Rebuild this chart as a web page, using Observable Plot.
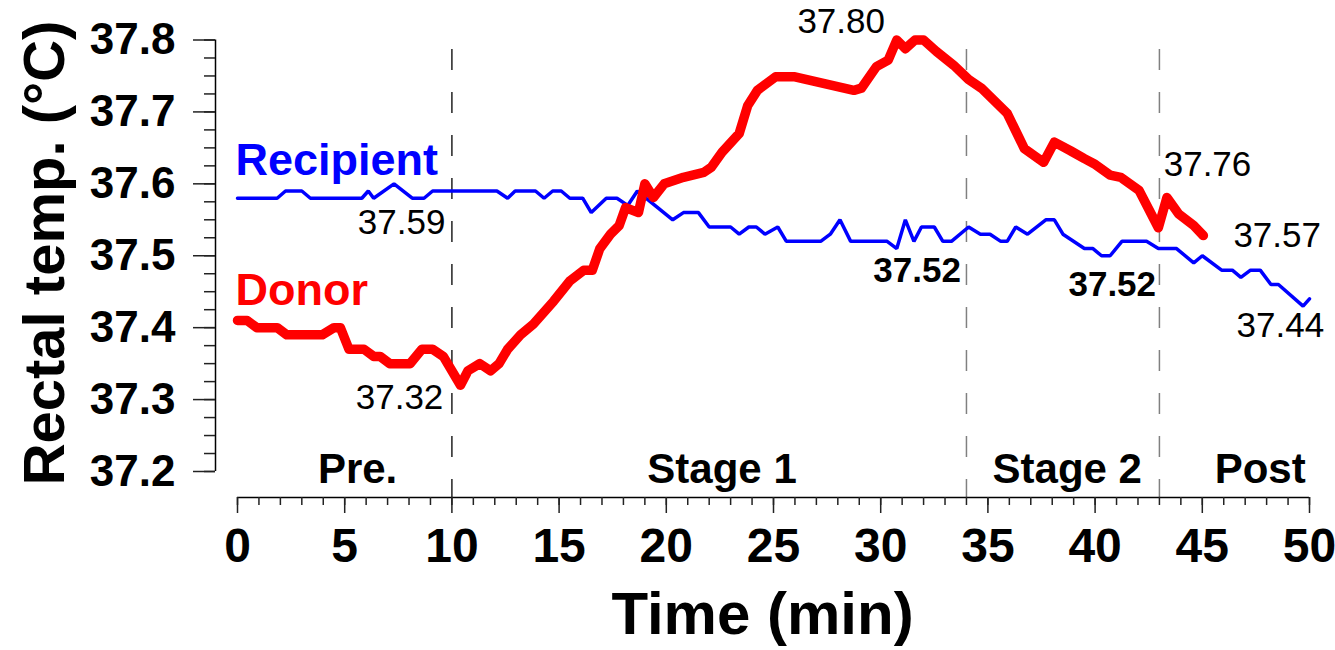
<!DOCTYPE html>
<html>
<head>
<meta charset="utf-8">
<script src="https://cdn.jsdelivr.net/npm/d3@7"></script>
<script src="https://cdn.jsdelivr.net/npm/@observablehq/plot@0.6"></script>
<style>
  html, body { margin: 0; padding: 0; background: #fff; }
  #chart svg { font-family: "Liberation Sans", Arial, sans-serif; }
</style>
</head>
<body>
<div id="chart"></div>
<script>
// ---- Data ----
const donorTime = [0, 0.45, 0.9, 1.85, 2.3, 3.95, 4.5, 4.8, 5.2, 5.9, 6.35, 6.65, 7.1, 8.05, 8.6, 9.1, 9.6, 10.4, 10.75, 11.3, 11.8, 12.2, 12.6, 13.2, 13.8, 14.75, 15.5, 16.15, 16.55, 16.9, 17.4, 17.8, 18.1, 18.7, 19.0, 19.4, 19.9, 20.8, 21.75, 22.1, 22.6, 23.4, 23.8, 24.25, 25.1, 25.95, 28.75, 29.1, 29.8, 30.35, 30.75, 31.15, 31.6, 32.0, 32.6, 33.4, 34.1, 34.7, 35.9, 36.7, 37.6, 38.1, 38.85, 39.5, 39.95, 40.7, 41.2, 42.05, 42.95, 43.35, 43.9, 44.6, 45.05];
const donorTemp = [37.41, 37.41, 37.40, 37.40, 37.39, 37.39, 37.40, 37.40, 37.37, 37.37, 37.36, 37.36, 37.35, 37.35, 37.37, 37.37, 37.36, 37.32, 37.34, 37.35, 37.34, 37.35, 37.37, 37.39, 37.405, 37.437, 37.465, 37.48, 37.48, 37.51, 37.53, 37.542, 37.567, 37.56, 37.60, 37.581, 37.60, 37.609, 37.616, 37.623, 37.644, 37.67, 37.709, 37.73, 37.749, 37.749, 37.73, 37.733, 37.763, 37.772, 37.80, 37.788, 37.80, 37.80, 37.784, 37.765, 37.745, 37.733, 37.698, 37.649, 37.63, 37.658, 37.646, 37.635, 37.628, 37.612, 37.609, 37.591, 37.539, 37.581, 37.558, 37.542, 37.528];

const recipTime = [0, 1.85, 2.24, 3.0, 3.4, 5.8, 6.1, 6.35, 7.3, 8.15, 8.7, 9.1, 12.1, 12.6, 12.95, 13.9, 14.3, 14.7, 15.1, 15.5, 16.1, 16.5, 17.2, 17.7, 18.2, 18.65, 20.3, 20.8, 21.5, 22.0, 23.0, 23.4, 23.85, 24.2, 24.6, 25.2, 25.6, 27.2, 27.65, 28.1, 28.6, 30.3, 30.75, 31.15, 31.55, 31.9, 32.5, 32.9, 33.3, 34.1, 34.65, 35.1, 35.6, 35.9, 36.3, 36.85, 37.7, 38.1, 38.5, 39.5, 39.9, 40.3, 40.7, 41.25, 42.4, 42.95, 43.8, 44.6, 45.0, 45.9, 46.4, 46.8, 47.25, 47.7, 48.2, 48.55, 49.7, 50.0];
const recipTemp = [37.58, 37.58, 37.59, 37.59, 37.58, 37.58, 37.59, 37.58, 37.60, 37.58, 37.58, 37.59, 37.59, 37.58, 37.59, 37.59, 37.58, 37.59, 37.59, 37.58, 37.58, 37.56, 37.58, 37.58, 37.57, 37.59, 37.55, 37.56, 37.56, 37.54, 37.54, 37.53, 37.54, 37.54, 37.53, 37.54, 37.52, 37.52, 37.53, 37.55, 37.52, 37.52, 37.51, 37.55, 37.52, 37.54, 37.54, 37.52, 37.52, 37.54, 37.53, 37.53, 37.52, 37.52, 37.54, 37.53, 37.55, 37.55, 37.53, 37.51, 37.51, 37.50, 37.50, 37.52, 37.52, 37.51, 37.51, 37.49, 37.50, 37.48, 37.48, 37.47, 37.48, 37.48, 37.46, 37.46, 37.43, 37.44];

// stage boundaries (min)
const stageBounds = [10, 34, 43];
const stageColors = ["#222", "#808080", "#808080"];
// stage labels
const stageNames = ["Pre.", "Stage 1", "Stage 2", "Post"];
const stageLabelX = [5.6, 22.6, 38.7, 47.7];

// series labels
const seriesNames = ["Recipient", "Donor"];
const seriesLabelY = [37.633, 37.451];
const seriesColors = ["#0000ff", "#ff0000"];

// value annotations
const annText = ["37.59", "37.32", "37.80", "37.76", "37.57", "37.44", "37.52", "37.52"];
const annX = [9.7, 9.6, 30.2, 43.2, 46.45, 46.6, 31.7, 40.8];
const annY = [37.546, 37.303, 37.825, 37.626, 37.528, 37.403, 37.479, 37.459];
const annAnchor = ["end", "end", "end", "start", "start", "start", "middle", "middle"];
const annBold = [false, false, false, false, false, false, true, true];

// axis ticks
const xMajor = [0, 5, 10, 15, 20, 25, 30, 35, 40, 45, 50];
const xMinor = d3.range(0, 51, 1);
const yMajor = [37.2, 37.3, 37.4, 37.5, 37.6, 37.7, 37.8];
const yMinor = d3.range(0, 25).map(i => 37.2 + i * 0.025);

// ---- tables ----
const donor = donorTime.map((t, i) => ({t, v: donorTemp[i]}));
const recip = recipTime.map((t, i) => ({t, v: recipTemp[i]}));
const stages = stageBounds.map((t, i) => ({t, c: stageColors[i]}));
const stageLbl = stageNames.map((n, i) => ({n, t: stageLabelX[i]}));
const seriesLbl = seriesNames.map((n, i) => ({n, v: seriesLabelY[i], c: seriesColors[i]}));
const ann = annText.map((s, i) => ({s, t: annX[i], v: annY[i], a: annAnchor[i], b: annBold[i]}));

const annMarks = ["start", "middle", "end"].flatMap(a => [false, true].map(b => {
  const rows = ann.filter(d => d.a === a && d.b === b);
  return Plot.text(rows, {x: "t", y: "v", text: "s", textAnchor: a, fontSize: 35,
    fontWeight: b ? "bold" : "normal", fill: "black"});
}));

const W = 1335, H = 650;
const chart = Plot.plot({
  width: W,
  height: H,
  marginLeft: 215,
  marginRight: 26,
  marginTop: 40,
  marginBottom: 153,
  style: {fontFamily: "'Liberation Sans', Arial, sans-serif", color: "black", background: "white"},
  x: {domain: [0, 50], range: [237, 1309], axis: null},
  y: {domain: [37.2, 37.8], range: [471, 39.5], axis: null},
  marks: [
    // stage dashed lines
    Plot.ruleX(stages, {x: "t", stroke: "c", strokeWidth: 1.5, strokeDasharray: "21,22", insetTop: 9}),
    // y axis
    Plot.ruleX([0], {y1: 37.2, y2: 37.8, dx: -22, stroke: "black", strokeWidth: 1.5}),
    Plot.axisY({ticks: yMinor, tickSize: 11, tickFormat: () => "", stroke: "#222", strokeWidth: 1.5, label: null}),
    Plot.axisY({ticks: yMajor, tickSize: 22, tickPadding: 18, tickFormat: d3.format(".1f"),
      fontSize: 44, fontWeight: "bold", stroke: "#222", strokeWidth: 1.5, label: null}),
    // x axis
    Plot.ruleY([37.2], {x1: 0, x2: 50, dy: 26, stroke: "black", strokeWidth: 1.5}),
    Plot.axisX({ticks: xMinor, tickSize: 8, tickFormat: () => "", stroke: "#222", strokeWidth: 1.5, label: null}),
    Plot.axisX({ticks: xMajor, tickSize: 16, tickPadding: 14, tickFormat: d => String(d),
      fontSize: 48, fontWeight: "bold", stroke: "#222", strokeWidth: 1.5, label: null}),
    // axis titles
    Plot.text(["Time (min)"], {frameAnchor: "bottom", dy: 136, textAnchor: "middle", text: d => d, fontSize: 60, fontWeight: "bold", fill: "black"}),
    Plot.text(["Rectal temp. (°C)"], {frameAnchor: "left", dx: -170, dy: -16, rotate: -90, textAnchor: "middle", text: d => d, fontSize: 58, fontWeight: "bold", fill: "black"}),
    // stage labels
    Plot.text(stageLbl, {x: "t", y: 37.2, dy: -2, text: "n", fontSize: 42, fontWeight: "bold", fill: "black"}),
    // lines
    Plot.line(recip, {x: "t", y: "v", stroke: "#0000ff", strokeWidth: 3.5, strokeLinejoin: "miter"}),
    Plot.line(donor, {x: "t", y: "v", stroke: "#ff0000", strokeWidth: 9.5, strokeLinejoin: "round", strokeLinecap: "round"}),
    // series labels
    Plot.text(seriesLbl, {x: 0, y: "v", text: "n", fill: "c", textAnchor: "start", dx: -2, fontSize: 45, fontWeight: "bold"}),
    // annotations
    ...annMarks
  ]
});
document.getElementById("chart").appendChild(chart);
</script>
</body>
</html>
